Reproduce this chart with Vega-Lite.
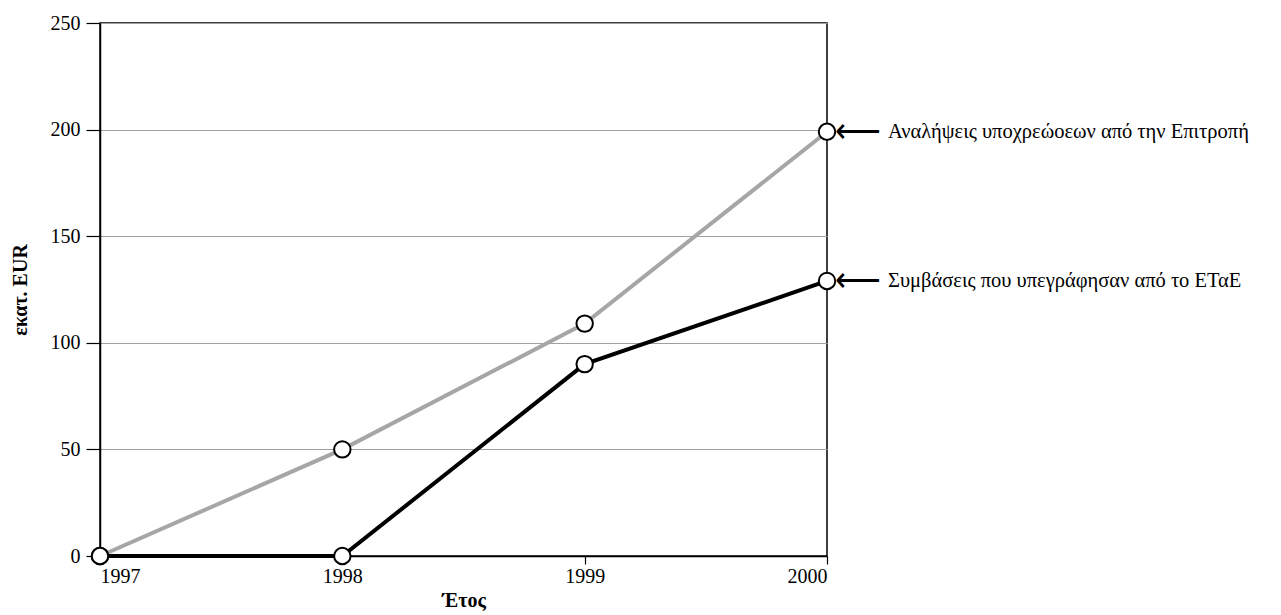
{
  "$schema": "https://vega.github.io/schema/vega-lite/v6.json",
  "width": 727,
  "height": 533,
  "autosize": {"type": "none"},
  "padding": {"left": 100, "top": 23, "right": 454, "bottom": 59},
  "background": "white",
  "config": {
    "font": "Liberation Serif",
    "view": {"stroke": "black", "strokeWidth": 1.5},
    "axis": {
      "labelFont": "Liberation Serif",
      "titleFont": "Liberation Serif",
      "labelFontSize": 20,
      "titleFontSize": 20,
      "labelColor": "black",
      "titleColor": "black",
      "domainColor": "black",
      "domainWidth": 1.5,
      "tickColor": "black",
      "tickWidth": 1.2
    }
  },
  "data": {
    "values": [
      {"year": 1997, "value": 0, "series": "Αναλήψεις υποχρεώοεων από την Επιτροπή"},
      {"year": 1998, "value": 50, "series": "Αναλήψεις υποχρεώοεων από την Επιτροπή"},
      {"year": 1999, "value": 109, "series": "Αναλήψεις υποχρεώοεων από την Επιτροπή"},
      {"year": 2000, "value": 199, "series": "Αναλήψεις υποχρεώοεων από την Επιτροπή"},
      {"year": 1997, "value": 0, "series": "Συμβάσεις που υπεγράφησαν από το ΕΤαΕ"},
      {"year": 1998, "value": 0, "series": "Συμβάσεις που υπεγράφησαν από το ΕΤαΕ"},
      {"year": 1999, "value": 90, "series": "Συμβάσεις που υπεγράφησαν από το ΕΤαΕ"},
      {"year": 2000, "value": 129, "series": "Συμβάσεις που υπεγράφησαν από το ΕΤαΕ"}
    ]
  },
  "encoding": {
    "x": {
      "field": "year",
      "type": "quantitative",
      "scale": {"domain": [1997, 2000], "nice": false, "zero": false},
      "axis": {
        "title": "Έτος",
        "titleFontWeight": "bold",
        "titlePadding": 4,
        "values": [1997, 1998, 1999, 2000],
        "format": "d",
        "grid": false,
        "tickSize": 8,
        "labelPadding": 2
      }
    },
    "y": {
      "field": "value",
      "type": "quantitative",
      "scale": {"domain": [0, 250], "nice": false},
      "axis": {
        "title": "εκατ. EUR",
        "titleFontWeight": "bold",
        "titlePadding": 20,
        "values": [0, 50, 100, 150, 200, 250],
        "grid": true,
        "gridColor": "#a0a0a0",
        "gridWidth": 1,
        "tickSize": 14,
        "labelPadding": 6
      }
    }
  },
  "layer": [
    {
      "mark": {"type": "line", "strokeWidth": 4},
      "encoding": {
        "detail": {"field": "series"},
        "color": {
          "field": "series",
          "type": "nominal",
          "scale": {
            "domain": ["Αναλήψεις υποχρεώοεων από την Επιτροπή", "Συμβάσεις που υπεγράφησαν από το ΕΤαΕ"],
            "range": ["#a6a6a6", "#000000"]
          },
          "legend": null
        }
      }
    },
    {
      "mark": {"type": "point", "shape": "circle", "filled": true, "fill": "white", "stroke": "black", "strokeWidth": 2, "size": 270, "opacity": 1},
      "encoding": {}
    },
    {
      "transform": [{"filter": "datum.year === 2000"}],
      "mark": {"type": "text", "text": "⟵", "font": "DejaVu Sans", "fontWeight": 200, "fontSize": 32, "align": "left", "baseline": "middle", "dx": 8, "color": "black"},
      "encoding": {}
    },
    {
      "transform": [{"filter": "datum.year === 2000"}],
      "mark": {"type": "text", "fontSize": 20.5, "align": "left", "baseline": "middle", "dx": 61, "color": "black"},
      "encoding": {"text": {"field": "series"}}
    }
  ]
}
